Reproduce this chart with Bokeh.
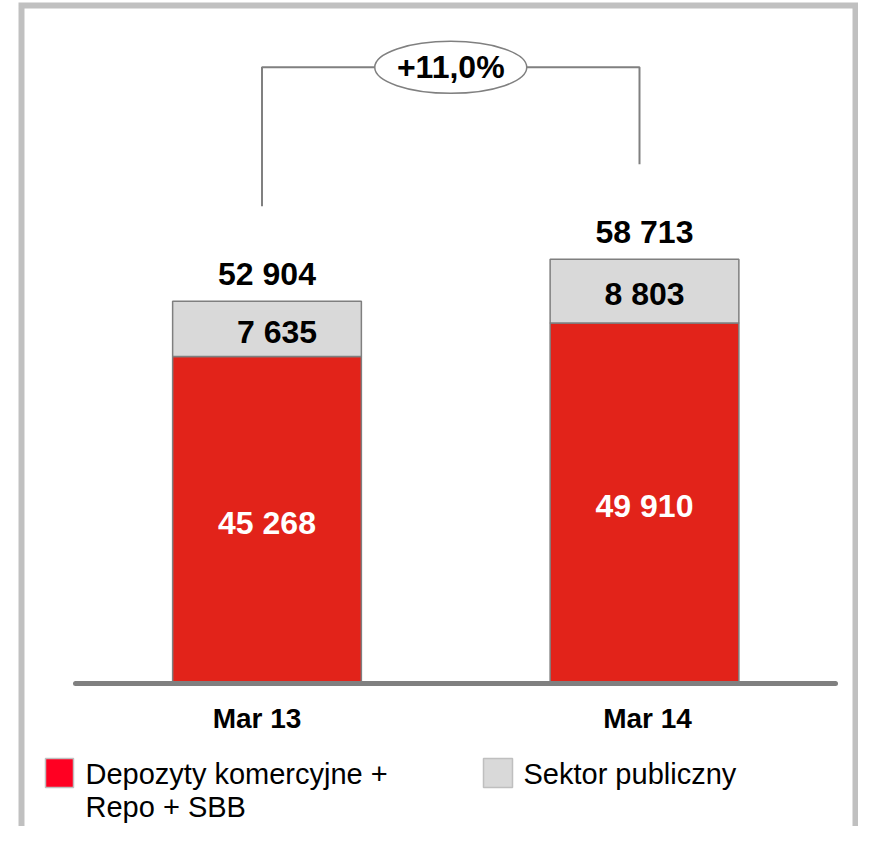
from bokeh.plotting import figure
from bokeh.models import Range1d, ColumnDataSource
from bokeh.core.properties import value
from bokeh.embed import file_html
from bokeh.resources import INLINE

# ---- data ----
categories = ["Mar 13", "Mar 14"]
commercial = [45268, 49910]
public = [7635, 8803]
totals = [52904, 58713]
growth_label = "+11,0%"
legend_commercial = ["Depozyty komercyjne +", "Repo + SBB"]
legend_public = ["Sektor publiczny"]

def fmt(v):
    return f"{v:,}".replace(",", " ")

# ---- layout (figure pixels) ----
W, H = 858, 826
X0 = 266.5      # px position of first category
DX = 377.5      # px between categories
BASE = 683      # baseline px from top
UPP = 138.43    # value units per px
cat_label_shift = [-10, 3]     # px nudges of category labels
pub_label_shift = [10, 0]      # px nudges of public-sector labels

x_start = -X0 / DX
x_end = (W - X0) / DX
y_start = -(H - BASE) * UPP
y_end = BASE * UPP

def fx(px):
    return x_start + px / DX

def fy(py):
    return y_end - py * UPP

FONT = value("Liberation Sans")
RED = "#E2231A"
GRAY = "#D9D9D9"
EDGE = "#7F7F7F"

p = figure(width=W, height=H, x_range=Range1d(x_start, x_end),
           y_range=Range1d(y_start, y_end), output_backend="svg",
           toolbar_location=None, min_border=0, x_axis_location=None,
           y_axis_location=None, outline_line_color=None)
p.xgrid.visible = False
p.ygrid.visible = False
p.background_fill_color = "white"

xs = list(range(len(categories)))
tops = [c + g for c, g in zip(commercial, public)]
src = ColumnDataSource(dict(
    x=xs, cat=categories, com=commercial, pub=public, top=tops,
    com_mid=[c / 2 for c in commercial],
    pub_mid=[c + g / 2 for c, g in zip(commercial, public)],
    com_lbl=[fmt(v) for v in commercial],
    pub_lbl=[fmt(v) for v in public],
    tot_lbl=[fmt(v) for v in totals],
    cat_dx=cat_label_shift,
    pub_dx=pub_label_shift,
))

# outer frame
p.multi_line(xs=[[fx(21), fx(21), fx(855), fx(855)]],
             ys=[[fy(H + 20), fy(5), fy(5), fy(H + 20)]],
             line_color="#C0C0C0", line_width=6, line_join="miter")

# bars
p.vbar(x="x", width=0.5, bottom=0, top="com", source=src,
       fill_color=RED, line_color=EDGE, line_width=1.5)
p.vbar(x="x", width=0.5, bottom="com", top="top", source=src,
       fill_color=GRAY, line_color=EDGE, line_width=1.5)

# baseline
p.line(x=[fx(75), fx(835)], y=[0, 0], line_color="#808080",
       line_width=5, line_cap="round")

# labels
p.text(x="x", y="top", text="tot_lbl", source=src, y_offset=-27,
       text_align="center", text_baseline="middle", text_font=FONT,
       text_font_size="32px", text_font_style="bold", text_color="black")
p.text(x="x", y="pub_mid", text="pub_lbl", source=src, y_offset=3,
       x_offset="pub_dx",
       text_align="center", text_baseline="middle", text_font=FONT,
       text_font_size="32px", text_font_style="bold", text_color="black")
p.text(x="x", y="com_mid", text="com_lbl", source=src, y_offset=3,
       text_align="center", text_baseline="middle", text_font=FONT,
       text_font_size="32px", text_font_style="bold", text_color="white")
p.text(x="x", y=0, text="cat", source=src, y_offset=35, x_offset="cat_dx",
       text_align="center", text_baseline="middle", text_font=FONT,
       text_font_size="28px", text_font_style="bold", text_color="black")

# growth bracket
leg_shift = -5 / DX
bx = [x + leg_shift for x in xs]
btop = max(totals) + 192 * UPP
leg_bottoms = [t + 95 * UPP for t in totals]
p.line(x=[bx[0], bx[0], bx[1], bx[1]],
       y=[leg_bottoms[0], btop, btop, leg_bottoms[1]],
       line_color="#808080", line_width=2)
mx = (bx[0] + bx[1]) / 2
p.ellipse(x=[mx], y=[btop], width=[152], height=[52],
          width_units="screen", height_units="screen",
          fill_color="white", line_color="#808080", line_width=1.5)
p.text(x=[mx], y=[btop], text=[growth_label], text_align="center",
       text_baseline="middle", text_font=FONT, text_font_size="32px",
       text_font_style="bold", text_color="black")

# legend
p.quad(left=[fx(45)], right=[fx(73)], top=[fy(758)], bottom=[fy(787)],
       fill_color="#FF0022", line_color="#BFBFBF", line_width=1.5)
p.quad(left=[fx(483)], right=[fx(512)], top=[fy(758)], bottom=[fy(787)],
       fill_color=GRAY, line_color="#BFBFBF", line_width=1.5)
p.text(x=[fx(85)] * len(legend_commercial),
       y=[fy(773 + 33 * i) for i in range(len(legend_commercial))],
       text=legend_commercial, text_align="left", text_baseline="middle",
       text_font=FONT, text_font_size="29px", text_color="black")
p.text(x=[fx(523)], y=[fy(773)], text=legend_public, text_align="left",
       text_baseline="middle", text_font=FONT, text_font_size="29px",
       text_color="black")

open("out.html", "w").write(file_html(p, INLINE))
